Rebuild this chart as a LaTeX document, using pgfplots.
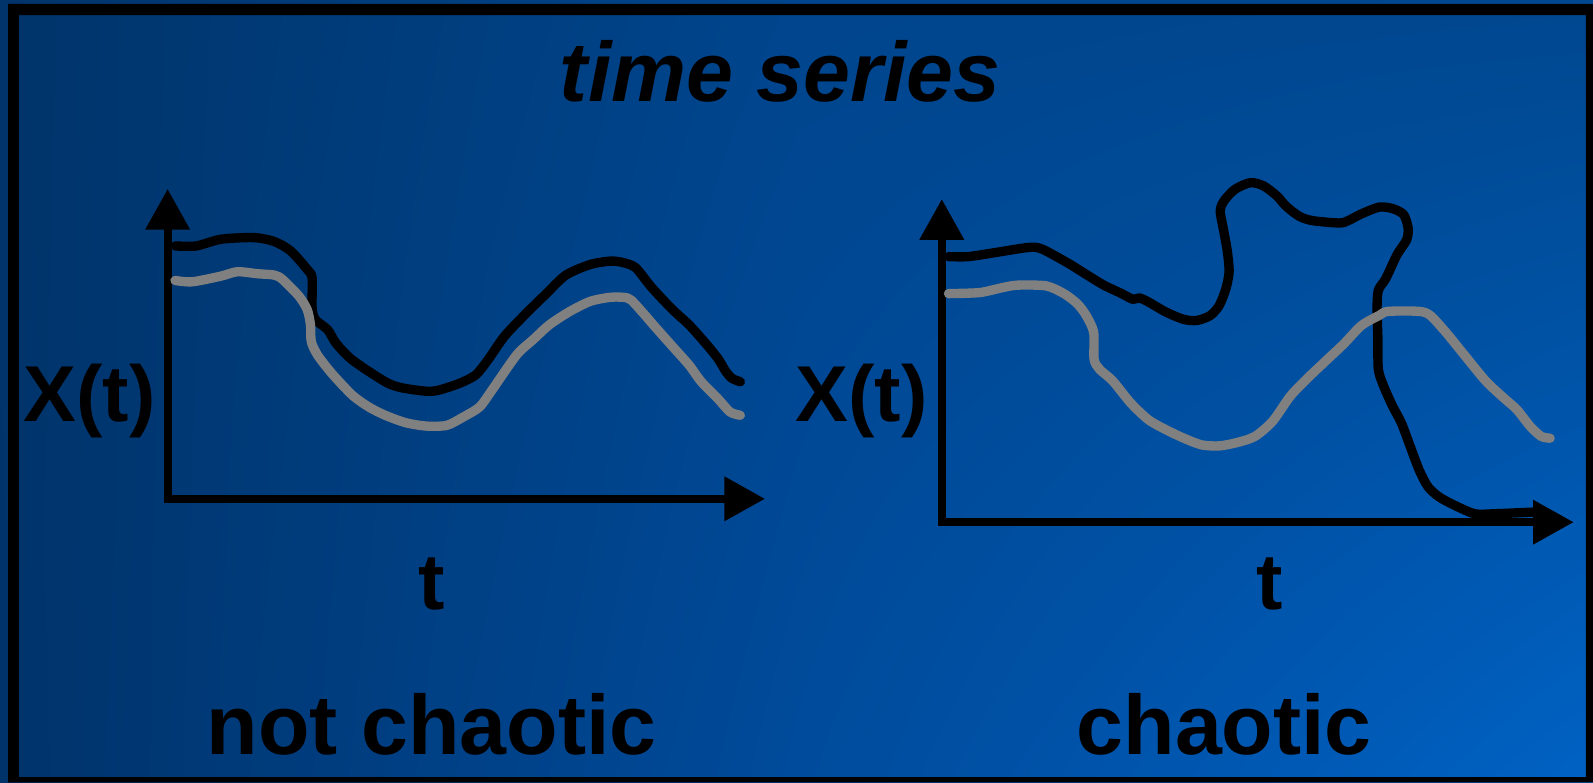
\documentclass[border=0pt]{standalone}
\usepackage{fontspec}
\setmainfont{Liberation Sans}
\usepackage{pgfplots}
\pgfplotsset{compat=1.18}
\usetikzlibrary{arrows.meta,shadings}

\definecolor{bgTL}{HTML}{00346A}
\definecolor{bgTM}{HTML}{00458D}
\definecolor{bgTR}{HTML}{00478F}
\definecolor{bgBL}{HTML}{00336A}
\definecolor{bgBM}{HTML}{004B9C}
\definecolor{bgBR}{HTML}{0062C4}
\definecolor{curvegray}{HTML}{808080}

\pgfplotsset{
  schematic/.style={
    scale only axis,
    axis lines=left,
    xtick=\empty, ytick=\empty,
    clip=false,
    axis line style={line width=3.9pt, black, line cap=rect},
    every outer x axis line/.append style={-{Triangle[width=21pt,length=20pt]}},
    every outer y axis line/.append style={-{Triangle[width=21pt,length=20pt]}},
  },
  blackcurve/.style={draw=black, line width=4.6pt, smooth, tension=0.45, line join=round, line cap=round},
  graycurve/.style={draw=curvegray, line width=4.6pt, smooth, tension=0.45, line join=round, line cap=round},
}

\begin{document}
\begin{tikzpicture}[x=0.5pt,y=0.5pt]
% background in two halves, then the frame
\shade[upper left=bgTL, upper right=bgTM, lower left=bgBL, lower right=bgBM]
  (0,0) rectangle (785,770);
\shade[upper left=bgTM, upper right=bgTR, lower left=bgBM, lower right=bgBR]
  (784,0) rectangle (1568,770);
\fill[black, even odd rule] (7.9,0) rectangle (1568,766.1) (18.7,5) rectangle (1561,755.2);

% title
\node[anchor=base] at (768,670) {\fontsize{41.5pt}{45pt}\selectfont\bfseries\itshape time series};

% regular signal
\begin{axis}[schematic, at={(165,279)}, anchor=south west,
  width=294pt, height=152.5pt, xmin=0, xmax=588, ymin=0, ymax=305]
\addplot[blackcurve] coordinates {
(7.3,248.9) (28.3,248.9) (52.5,255.5) (84.9,257.1) (105.1,253.2) (121.2,243.9)
(137.4,225.8) (142.2,217.5) (142.2,187.8) (145.5,176.3) (157.6,166.4) (165.7,153.2)
(181.8,136.6) (214.2,115.2) (230.3,109.3) (254.6,105.9) (266.7,106.9) (286.9,113.5)
(303.1,121.8) (315.2,136.6) (331.4,159.8) (351.6,181.2) (371.8,201.0) (392.0,220.2)
(416.2,230.7) (436.4,234.0) (448.6,232.4) (460.7,227.4) (476.8,207.6) (497.0,186.2)
(513.2,171.3) (529.4,153.2) (541.5,138.3) (549.6,125.1) (555.6,118.5) (563.7,115.2)
};
\addplot[graycurve] coordinates {
(7.3,214.9) (24.2,213.6) (52.5,219.2) (68.7,223.5) (88.9,221.5) (105.1,220.2)
(113.1,215.9) (129.3,199.4) (137.4,186.2) (140.6,171.3) (141.4,154.8) (147.5,141.6)
(161.6,123.4) (181.8,102.0) (198.0,90.4) (214.2,82.2) (234.4,74.9) (254.6,71.6)
(274.8,72.3) (291.0,80.5) (307.1,90.4) (319.2,106.9) (343.5,141.6) (359.6,156.5)
(375.8,171.3) (396.0,184.5) (416.2,194.4) (436.4,198.4) (452.6,197.7) (460.7,191.1)
(480.9,168.0) (497.0,149.9) (513.2,131.7) (525.3,115.2) (541.5,98.7) (553.6,85.5)
(563.7,82.2)
};
\end{axis}

% chaotic signal
\begin{axis}[schematic, at={(927,256)}, anchor=south west,
  width=311pt, height=159pt, xmin=0, xmax=622, ymin=0, ymax=318]
\addplot[blackcurve] coordinates {
(6.6,261.4) (26.2,261.4) (54.6,265.7) (85.2,270.4) (98.3,269.0) (124.6,254.8)
(142.1,243.9) (159.5,233.3) (177.0,225.0) (188.0,219.4) (194.5,220.7) (203.3,216.8)
(220.7,206.8) (238.2,199.6) (251.3,198.6) (264.4,203.5) (273.2,213.5) (279.7,230.0)
(282.8,246.5) (281.1,266.4) (277.6,286.2) (274.1,306.1) (277.6,316.0) (288.5,327.6)
(303.8,334.2) (316.9,330.9) (330.0,321.0) (338.8,311.1) (351.9,301.1) (365.0,296.8)
(391.2,294.5) (400.0,296.8) (413.1,303.5) (430.5,310.1) (443.7,308.7) (454.6,302.8)
(459.0,289.6) (457.6,278.0) (448.0,263.1) (437.1,239.9) (429.7,228.3) (428.4,210.1)
(429.2,183.7) (429.7,150.6) (434.9,134.0) (443.7,114.2) (452.4,97.6) (461.1,74.5)
(469.9,51.3) (478.6,34.8) (489.6,24.8) (504.8,16.6) (524.5,8.3) (544.2,8.3)
(581.3,9.9)
};
\addplot[graycurve] coordinates {
(6.6,225.0) (37.2,226.0) (59.0,230.7) (74.3,233.3) (102.7,232.6) (120.2,225.0)
(133.3,215.1) (142.1,203.5) (149.5,187.0) (149.9,160.5) (155.2,150.6) (168.3,139.0)
(185.8,117.5) (203.3,100.9) (220.7,91.0) (238.2,82.7) (255.7,76.1) (273.2,75.1)
(290.7,78.4) (308.2,84.4) (325.6,99.3) (343.1,124.1) (360.6,142.3) (378.1,158.9)
(395.6,175.4) (413.1,193.6) (430.5,203.5) (439.3,207.5) (469.9,207.5) (480.8,203.5)
(496.1,187.0) (513.6,165.5) (535.4,139.0) (552.9,122.5) (566.0,110.9) (579.2,94.3)
(590.1,84.4) (598.8,82.7)
};
\end{axis}

% axis labels
\node[anchor=base] at (88,355) {\fontsize{39pt}{42pt}\selectfont\bfseries X(t)};
\node[anchor=base] at (848,355) {\fontsize{39pt}{42pt}\selectfont\bfseries X(t)};
\node[anchor=base] at (425,170) {\fontsize{39pt}{42pt}\selectfont\bfseries t};
\node[anchor=base] at (1250,170) {\fontsize{39pt}{42pt}\selectfont\bfseries t};

% captions
\node[anchor=base] at (425,27) {\fontsize{41.5pt}{45pt}\selectfont\bfseries not chaotic};
\node[anchor=base] at (1205,27) {\fontsize{41.5pt}{45pt}\selectfont\bfseries chaotic};
\end{tikzpicture}
\end{document}
